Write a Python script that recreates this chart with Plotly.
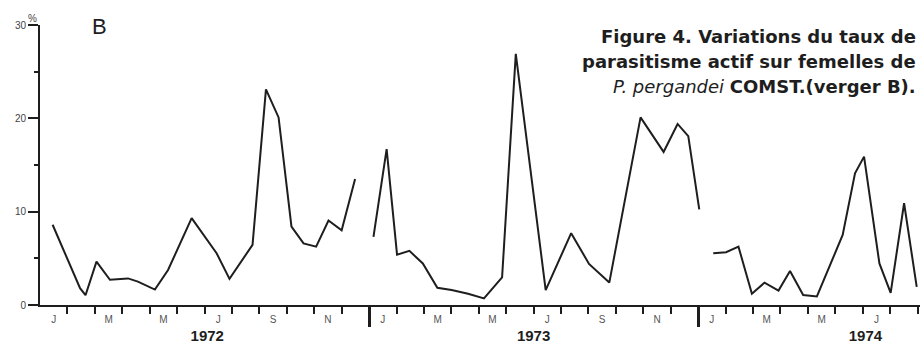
import plotly.graph_objects as go

# x = months since 1 Jan 1972, y = % parasitism
x1972 = [0.46, 1.46, 1.66, 2.06, 2.55, 3.21, 3.57, 4.19, 4.67, 5.53, 6.44, 6.91, 7.75,
         8.24, 8.70, 9.17, 9.61, 10.07, 10.52, 11.00, 11.49]
y1972 = [8.6, 1.8, 1.05, 4.65, 2.7, 2.85, 2.5, 1.65, 3.75, 9.3, 5.55, 2.8, 6.45,
         23.1, 20.1, 8.4, 6.6, 6.25, 9.05, 8.0, 13.5]

x1973 = [12.16, 12.64, 13.02, 13.47, 13.96, 14.49, 15.01, 15.61, 16.19, 16.85, 17.35,
         18.44, 19.37, 20.02, 20.76, 21.90, 22.74, 23.25, 23.64, 24.04]
y1973 = [7.3, 16.7, 5.4, 5.8, 4.45, 1.85, 1.6, 1.2, 0.7, 2.95, 26.9,
         1.6, 7.7, 4.4, 2.4, 20.1, 16.4, 19.4, 18.1, 10.25]

x1974 = [24.55, 25.02, 25.47, 25.96, 26.42, 26.93, 27.35, 27.83, 28.33, 29.27, 29.72,
         30.05, 30.61, 31.02, 31.51, 31.97]
y1974 = [5.55, 5.65, 6.25, 1.2, 2.4, 1.55, 3.65, 1.07, 0.92, 7.5, 14.1,
         15.9, 4.45, 1.3, 10.9, 1.95]

month_letters = ["J", "M", "M", "J", "S", "N"]
month_label_pos = [0.5, 2.5, 4.5, 6.5, 8.5, 10.5,
                   12.5, 14.5, 16.5, 18.5, 20.5, 22.5,
                   24.5, 26.5, 28.5, 30.5]
month_label_txt = month_letters * 2 + month_letters[:4]
month_ticks = [m for m in range(1, 33) if m not in (12, 24)]
year_ticks = [12, 24]
year_label_pos = [6.1, 18.0, 30.1]
year_labels = ["1972", "1973", "1974"]

y_major = [0, 10, 20, 30]
y_minor = [5, 15, 25]

XMAX = 32.09
ink = "#1e1e1e"

fig = go.Figure()
for xs, ys in ((x1972, y1972), (x1973, y1973), (x1974, y1974)):
    fig.add_trace(go.Scatter(x=xs, y=ys, mode="lines",
                             line=dict(color=ink, width=2), showlegend=False,
                             hoverinfo="skip"))
# invisible helpers so overlay axes are drawn
for xa, ya in (("x2", "y"), ("x3", "y"), ("x", "y2")):
    fig.add_trace(go.Scatter(x=[0], y=[0], xaxis=xa, yaxis=ya, mode="markers",
                             marker=dict(opacity=0), showlegend=False,
                             hoverinfo="skip"))

fig.update_layout(
    width=922, height=343,
    margin=dict(l=40, r=2, t=25, b=38),
    paper_bgcolor="white", plot_bgcolor="white",
    font=dict(family="Liberation Sans, Arial, sans-serif", color=ink),
    xaxis=dict(range=[0, XMAX], showgrid=False, zeroline=False, automargin=False,
               showline=True, linewidth=2, linecolor=ink,
               tickmode="array", tickvals=month_label_pos, ticktext=month_label_txt,
               ticks="outside", ticklen=4, tickcolor="rgba(0,0,0,0)",
               tickfont=dict(size=10, color="#555"),
               minor=dict(tickmode="array", tickvals=month_ticks, ticks="outside",
                          ticklen=7, tickwidth=1.5, tickcolor=ink, showgrid=False)),
    xaxis2=dict(range=[0, XMAX], overlaying="x", anchor="y", side="bottom",
                showgrid=False, zeroline=False, showline=False, automargin=False,
                tickmode="array", tickvals=year_label_pos, ticktext=year_labels,
                ticks="outside", ticklen=17, tickcolor="rgba(0,0,0,0)",
                tickfont=dict(size=15, color=ink, family="Liberation Sans, Arial",
                              weight="bold")),
    xaxis3=dict(range=[0, XMAX], overlaying="x", anchor="y", side="bottom",
                showgrid=False, zeroline=False, showline=False, automargin=False,
                tickmode="array", tickvals=year_ticks, showticklabels=False,
                ticks="outside", ticklen=21, tickwidth=2.5, tickcolor=ink),
    yaxis=dict(range=[0, 30], showgrid=False, zeroline=False, automargin=False,
               showline=True, linewidth=2, linecolor=ink,
               tickmode="array", tickvals=y_major, ticks="outside",
               ticklen=10, tickwidth=1.5, tickcolor=ink,
               tickfont=dict(size=10, color="#444")),
    yaxis2=dict(range=[0, 30], overlaying="y", anchor="x", side="left",
                showgrid=False, zeroline=False, showline=False, automargin=False,
                tickmode="array", tickvals=y_minor, showticklabels=False,
                ticks="outside", ticklen=5, tickwidth=1.5, tickcolor=ink),
)

fig.add_annotation(xref="paper", yref="paper", x=-0.008, y=1.025, text="%",
                   xanchor="center", yanchor="middle",
                   showarrow=False, font=dict(size=10, color="#444"))
fig.add_annotation(xref="paper", yref="paper", x=0.068, y=0.996, text="B",
                   xanchor="center", yanchor="middle",
                   showarrow=False, font=dict(size=22, color=ink,
                                              family="Liberation Sans, Arial"))

title_font = dict(size=18, color=ink, family="DejaVu Sans")
title_lines = [
    ("<b>Figure 4. Variations du taux de</b>", 0.9607),
    ("<b>parasitisme actif sur femelles de</b>", 0.871),
    ("<i>P. pergandei</i> <b>COMST.(verger B).</b>", 0.782),
]
for txt, yy in title_lines:
    fig.add_annotation(xref="paper", yref="paper", x=0.9977, y=yy, text=txt,
                       xanchor="right", yanchor="middle", showarrow=False,
                       font=title_font)

fig.write_html("out.html")
